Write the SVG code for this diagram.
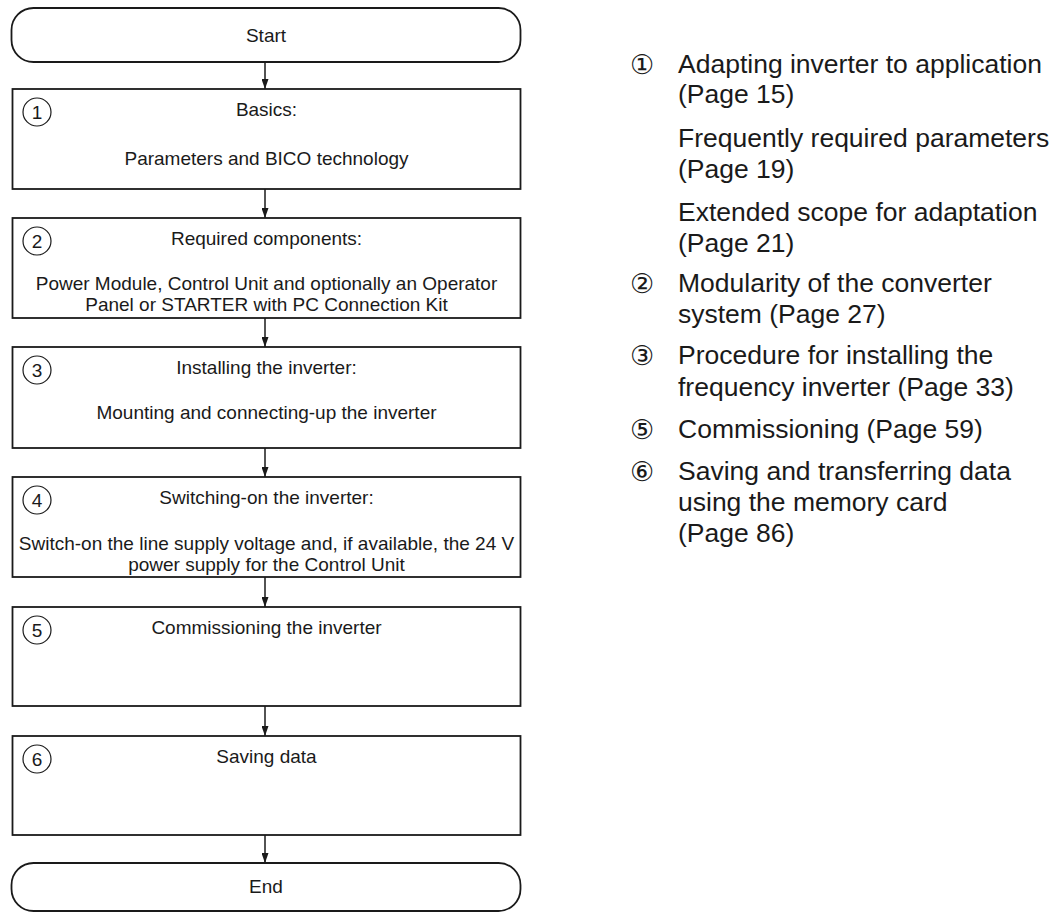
<svg xmlns="http://www.w3.org/2000/svg" width="1063" height="913" viewBox="0 0 1063 913">
<style>
  .box { fill: #ffffff; stroke: #1a1a1a; stroke-width: 1.8; }
  .num { fill: none; stroke: #1a1a1a; stroke-width: 1.2; }
  .t { font-family: "Liberation Sans", Arial, sans-serif; font-size: 19px; fill: #1a1a1a; text-anchor: middle; }
  .d { font-family: "Liberation Sans", Arial, sans-serif; font-size: 19px; fill: #1a1a1a; text-anchor: middle; }
  .r { font-family: "Liberation Sans", Arial, sans-serif; font-size: 26.5px; fill: #1a1a1a; }
  .c { font-family: "DejaVu Sans", "Noto Sans", sans-serif; font-size: 27px; fill: #1a1a1a; text-anchor: middle; }
  .conn { stroke: #1a1a1a; stroke-width: 1.5; fill: none; marker-end: url(#ah); }
</style>
<defs>
  <marker id="ah" viewBox="0 0 10 7" refX="10" refY="3.5" markerWidth="10" markerHeight="7" markerUnits="userSpaceOnUse" orient="auto">
    <path d="M0,0 L10,3.5 L0,7 Z" fill="#1a1a1a"/>
  </marker>
</defs>
<rect width="1063" height="913" fill="#ffffff"/>

<g id="connectors">
  <line class="conn" x1="265" y1="62" x2="265" y2="89"/>
  <line class="conn" x1="265" y1="189" x2="265" y2="218"/>
  <line class="conn" x1="265" y1="318" x2="265" y2="347"/>
  <line class="conn" x1="265" y1="448" x2="265" y2="477"/>
  <line class="conn" x1="265" y1="577" x2="265" y2="607"/>
  <line class="conn" x1="265" y1="706" x2="265" y2="736"/>
  <line class="conn" x1="265" y1="835" x2="265" y2="863"/>
</g>

<g id="start">
  <rect class="box" x="11.5" y="8" width="509" height="54" rx="22" ry="22"/>
  <text class="t" x="266" y="42">Start</text>
</g>

<g id="step1">
  <rect class="box" x="12.5" y="89" width="508" height="100"/>
  <circle class="num" cx="37" cy="112" r="14"/>
  <text class="d" x="37" y="119">1</text>
  <text class="t" x="266.5" y="116">Basics:</text>
  <text class="t" x="266.5" y="165">Parameters and BICO technology</text>
</g>

<g id="step2">
  <rect class="box" x="12.5" y="218" width="508" height="100"/>
  <circle class="num" cx="37" cy="241" r="14"/>
  <text class="d" x="37" y="248">2</text>
  <text class="t" x="266.5" y="245">Required components:</text>
  <text class="t" x="266.5" y="290">Power Module, Control Unit and optionally an Operator</text>
  <text class="t" x="266.5" y="311">Panel or STARTER with PC Connection Kit</text>
</g>

<g id="step3">
  <rect class="box" x="12.5" y="347" width="508" height="101"/>
  <circle class="num" cx="37" cy="370" r="14"/>
  <text class="d" x="37" y="377">3</text>
  <text class="t" x="266.5" y="374">Installing the inverter:</text>
  <text class="t" x="266.5" y="419">Mounting and connecting-up the inverter</text>
</g>

<g id="step4">
  <rect class="box" x="12.5" y="477" width="508" height="100"/>
  <circle class="num" cx="37" cy="500" r="14"/>
  <text class="d" x="37" y="507">4</text>
  <text class="t" x="266.5" y="504">Switching-on the inverter:</text>
  <text class="t" x="266.5" y="550">Switch-on the line supply voltage and, if available, the 24 V</text>
  <text class="t" x="266.5" y="571">power supply for the Control Unit</text>
</g>

<g id="step5">
  <rect class="box" x="12.5" y="607" width="508" height="99"/>
  <circle class="num" cx="37" cy="630" r="14"/>
  <text class="d" x="37" y="637">5</text>
  <text class="t" x="266.5" y="634">Commissioning the inverter</text>
</g>

<g id="step6">
  <rect class="box" x="12.5" y="736" width="508" height="99"/>
  <circle class="num" cx="37" cy="759" r="14"/>
  <text class="d" x="37" y="766">6</text>
  <text class="t" x="266.5" y="763">Saving data</text>
</g>

<g id="end">
  <rect class="box" x="11.5" y="863" width="509" height="48" rx="22" ry="22"/>
  <text class="t" x="266" y="893">End</text>
</g>

<g id="legend">
  <text class="c" x="642" y="74">①</text>
  <text class="r" x="678" y="73">Adapting inverter to application</text>
  <text class="r" x="678" y="103">(Page 15)</text>
  <text class="r" x="678" y="147">Frequently required parameters</text>
  <text class="r" x="678" y="178">(Page 19)</text>
  <text class="r" x="678" y="221">Extended scope for adaptation</text>
  <text class="r" x="678" y="252">(Page 21)</text>
  <text class="c" x="642" y="293">②</text>
  <text class="r" x="678" y="292">Modularity of the converter</text>
  <text class="r" x="678" y="323">system (Page 27)</text>
  <text class="c" x="642" y="365">③</text>
  <text class="r" x="678" y="364">Procedure for installing the</text>
  <text class="r" x="678" y="396">frequency inverter (Page 33)</text>
  <text class="c" x="642" y="439">⑤</text>
  <text class="r" x="678" y="438">Commissioning (Page 59)</text>
  <text class="c" x="642" y="481">⑥</text>
  <text class="r" x="678" y="480">Saving and transferring data</text>
  <text class="r" x="678" y="511">using the memory card</text>
  <text class="r" x="678" y="542">(Page 86)</text>
</g>
</svg>
